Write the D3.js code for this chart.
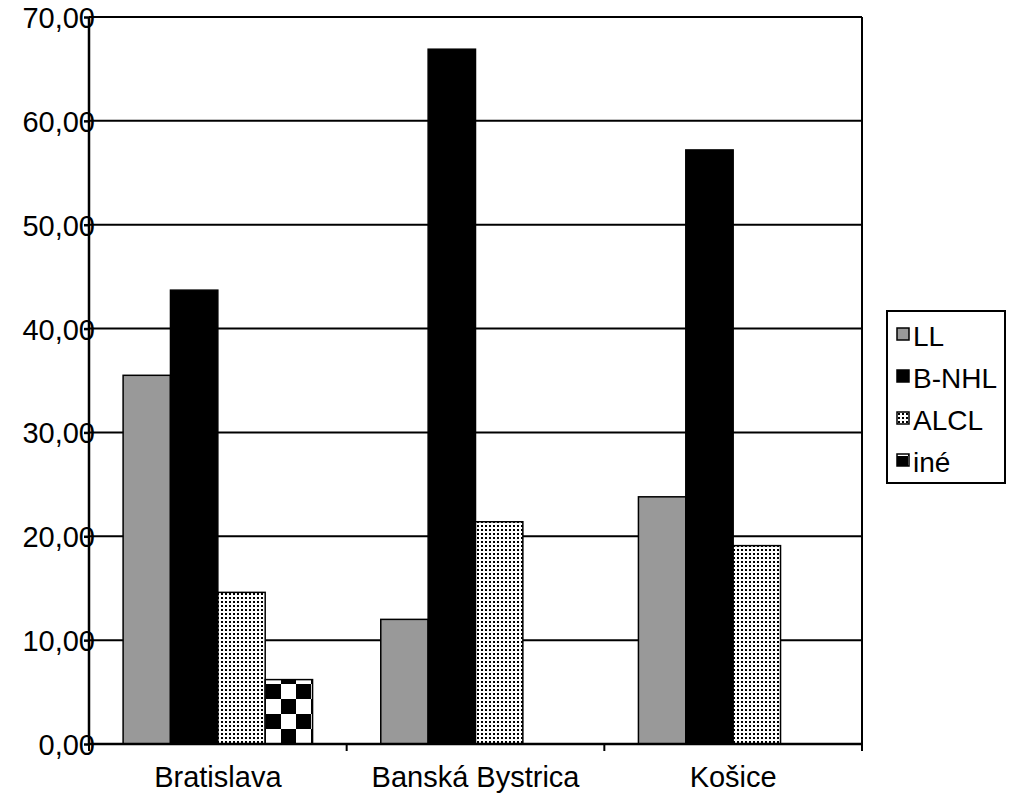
<!DOCTYPE html>
<html><head><meta charset="utf-8">
<script src="https://cdn.jsdelivr.net/npm/d3@7"></script>
<style>body{margin:0;background:#fff;overflow:hidden}svg{display:block}</style>
</head><body>
<script>
const categories = ['Bratislava', 'Banská Bystrica', 'Košice']
const seriesNames = ['LL', 'B-NHL', 'ALCL', 'iné']
const llValues = [35.5, 12.0, 23.8]
const bnhlValues = [43.7, 66.9, 57.2]
const alclValues = [14.6, 21.4, 19.1]
const ineValues = [6.2, 0, 0]
const yTicks = [0, 10, 20, 30, 40, 50, 60, 70]

const series = [llValues, bnhlValues, alclValues, ineValues]
const fills = ['#999', '#000', 'url(#dots)', 'url(#checker)']

const w = 1012, h = 800
const plot = {left: 89, right: 862, top: 17, bottom: 744}

const svg = d3.select('body').append('svg').attr('width', w).attr('height', h)
    .style('font-family', '"Liberation Sans", Arial, sans-serif')

const defs = svg.append('defs')
const dots = defs.append('pattern').attr('id', 'dots').attr('patternUnits', 'userSpaceOnUse')
    .attr('width', 4).attr('height', 4)
dots.append('rect').attr('width', 4).attr('height', 4).attr('fill', '#fff')
dots.append('rect').attr('x', 1).attr('y', 1).attr('width', 2).attr('height', 2).attr('fill', '#000')
const checker = defs.append('pattern').attr('id', 'checker').attr('patternUnits', 'userSpaceOnUse')
    .attr('width', 30).attr('height', 30).attr('x', 266).attr('y', 744)
checker.append('rect').attr('width', 30).attr('height', 30).attr('fill', '#fff')
checker.append('rect').attr('width', 15).attr('height', 15).attr('fill', '#000')
checker.append('rect').attr('x', 15).attr('y', 15).attr('width', 15).attr('height', 15).attr('fill', '#000')

const x = d3.scaleBand().domain(categories).range([plot.left, plot.right])
const xs = d3.scaleBand().domain(seriesNames).range([0, x.bandwidth()]).paddingOuter(0.72).paddingInner(0)
const y = d3.scaleLinear().domain([0, 70]).range([plot.bottom, plot.top])

// gridlines
svg.append('g').selectAll('line').data(yTicks).join('line')
    .attr('x1', plot.left).attr('x2', plot.right)
    .attr('y1', d => y(d)).attr('y2', d => y(d))
    .attr('stroke', '#000').attr('stroke-width', 2)
svg.append('line').attr('x1', plot.right).attr('x2', plot.right)
    .attr('y1', plot.top).attr('y2', plot.bottom).attr('stroke', '#000').attr('stroke-width', 2)

// bars
series.forEach((vals, i) => {
    svg.append('g').selectAll('rect').data(categories).join('rect')
        .attr('x', c => x(c) + xs(seriesNames[i]))
        .attr('width', xs.bandwidth())
        .attr('y', (c, j) => y(vals[j]))
        .attr('height', (c, j) => plot.bottom - y(vals[j]))
        .attr('fill', fills[i])
        .attr('stroke', '#000').attr('stroke-width', 1.5)
        .attr('display', (c, j) => vals[j] > 0 ? null : 'none')
})

// tick labels
svg.append('g').selectAll('text').data(yTicks).join('text')
    .attr('x', plot.left + 6).attr('y', d => y(d) + 11)
    .attr('text-anchor', 'end').attr('font-size', 29)
    .text(d => d3.format('.2f')(d).replace('.', ','))

// axes
const yAxis = svg.append('g').attr('transform', `translate(${plot.left},0)`)
    .call(d3.axisLeft(y).tickValues(yTicks).tickSize(5).tickFormat(''))
yAxis.selectAll('path,line').attr('stroke', '#000').attr('stroke-width', 2.5)
yAxis.select('.domain').attr('d', `M0,${plot.top}V${plot.bottom}`)
const xAxis = svg.append('g').attr('transform', `translate(0,${plot.bottom})`)
    .call(d3.axisBottom(x).tickSize(0))
xAxis.select('.domain').attr('stroke', '#000').attr('stroke-width', 2.5)
    .attr('d', `M${plot.left},0H${plot.right}`)
xAxis.selectAll('text').attr('font-size', 29).attr('dy', 40).attr('fill', '#000')
    .attr('font-family', '"Liberation Sans", Arial, sans-serif')
svg.append('g').selectAll('line').data(categories.concat(['end'])).join('line')
    .attr('x1', (d, i) => plot.left + i * x.bandwidth()).attr('x2', (d, i) => plot.left + i * x.bandwidth())
    .attr('y1', plot.bottom).attr('y2', plot.bottom + 7).attr('stroke', '#000').attr('stroke-width', 2)

// legend
const lg = svg.append('g').attr('transform', 'translate(887,311)')
lg.append('rect').attr('width', 118).attr('height', 172).attr('fill', '#fff')
    .attr('stroke', '#000').attr('stroke-width', 2)
seriesNames.forEach((n, i) => {
    const row = lg.append('g').attr('transform', `translate(10,${25 + i * 42})`)
    row.append('rect').attr('x', 0).attr('y', -8).attr('width', 12).attr('height', 12)
        .attr('fill', fills[i]).attr('stroke', '#000').attr('stroke-width', 1.5)
    row.append('text').attr('x', 16).attr('y', 10).attr('font-size', 28).text(n)
})
</script>
</body></html>
